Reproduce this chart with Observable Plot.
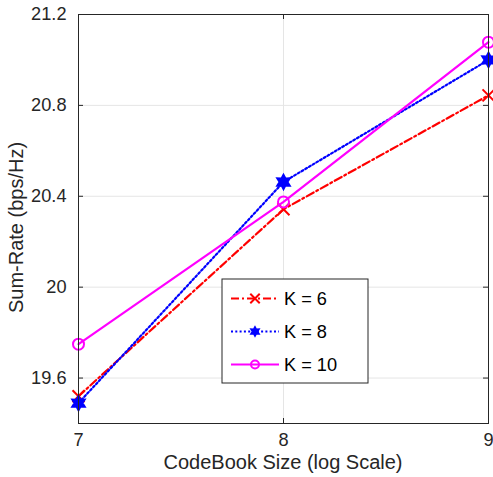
<!DOCTYPE html>
<html>
<head>
<meta charset="utf-8">
<script src="https://cdn.jsdelivr.net/npm/d3@7"></script>
<script src="https://cdn.jsdelivr.net/npm/@observablehq/plot@0.6"></script>
<style>
  html, body { margin: 0; padding: 0; background: #fff; }
  #chart { position: relative; width: 493px; height: 477px; }
  #chart svg { position: absolute; left: 0; top: 0; }
</style>
</head>
<body>
<div id="chart"></div>
<script>
const codebookSizes = [7, 8, 9];
const k6 = [19.52, 20.343, 20.844];
const k8 = [19.49, 20.463, 21.0];
const k10 = [19.749, 20.375, 21.078];
const seriesNames = ["K = 6", "K = 8", "K = 10"];
const xTicks = [7, 8, 9];
const yTicks = [19.6, 20, 20.4, 20.8, 21.2];
const yTickLabels = ["19.6", "20", "20.4", "20.8", "21.2"];

const W = 493, H = 477;
const mL = 78, mR = 5, mT = 14, mB = 54;
const pw = W - mL - mR, ph = H - mT - mB;
const font = "'Liberation Sans', Arial, sans-serif";
const axisColor = "#262626";
const fs = 18.2;
const fsLabel = 20;

const hexagram = {
  draw(ctx, size) {
    const r = Math.sqrt(size) * 0.9;
    const ri = r * 0.55;
    for (let i = 0; i < 12; i++) {
      const a = Math.PI / 2 + i * Math.PI / 6;
      const rr = i % 2 === 0 ? r : ri;
      const px = rr * Math.cos(a), py = -rr * Math.sin(a);
      if (i === 0) ctx.moveTo(px, py); else ctx.lineTo(px, py);
    }
    ctx.closePath();
  }
};

const styles = [
  {vals: k6, color: "#ff0000", dash: "8,3,2,3", symbol: "times", fill: "none", r: 5.5},
  {vals: k8, color: "#0000ff", dash: "2,2.3", symbol: hexagram, fill: "#0000ff", r: 4.5},
  {vals: k10, color: "#ff00ff", dash: null, symbol: "circle", fill: "none", r: 5.5}
];

const marks = [];
marks.push(Plot.ruleX(xTicks, {x: d => d, stroke: "#e5e5e5", strokeWidth: 1}));
marks.push(Plot.ruleY(yTicks, {y: d => d, stroke: "#e5e5e5", strokeWidth: 1}));
styles.forEach((s, i) => {
  const data = codebookSizes.map((x, j) => ({x, y: s.vals[j], name: seriesNames[i]}));
  marks.push(Plot.line(data, {x: "x", y: "y", stroke: s.color, strokeWidth: 2.2, strokeDasharray: s.dash}));
  marks.push(Plot.dot(data, {x: "x", y: "y", stroke: s.color, fill: s.fill, symbol: s.symbol, r: s.r, strokeWidth: 2}));
});
marks.push(Plot.frame({stroke: axisColor, strokeWidth: 1}));
marks.push(Plot.ruleY(yTicks, {y: d => d, stroke: axisColor, insetRight: pw - 5}));
marks.push(Plot.ruleY(yTicks, {y: d => d, stroke: axisColor, insetLeft: pw - 5}));
marks.push(Plot.ruleX(xTicks, {x: d => d, stroke: axisColor, insetTop: ph - 5}));
marks.push(Plot.ruleX(xTicks, {x: d => d, stroke: axisColor, insetBottom: ph - 5}));
marks.push(Plot.axisX(xTicks, {tickSize: 0, tickPadding: 10, fontSize: fs, fill: axisColor, fontFamily: font, label: null, tickFormat: d => String(d)}));
marks.push(Plot.axisY(yTicks, {tickSize: 0, tickPadding: 12, fontSize: fs, fill: axisColor, fontFamily: font, label: null, tickFormat: (d, i) => yTickLabels[i]}));

const plot = Plot.plot({
  width: W, height: H,
  marginLeft: mL, marginRight: mR, marginTop: mT, marginBottom: mB,
  x: {domain: [7, 9]},
  y: {domain: [19.4, 21.2]},
  style: {fontFamily: font, background: "#fff", overflow: "visible"},
  marks
});
document.getElementById("chart").appendChild(plot);

const svg = d3.select("#chart").append("svg")
  .attr("width", W).attr("height", H)
  .style("pointer-events", "none");
svg.append("text")
  .attr("x", mL + pw / 2).attr("y", 469)
  .attr("text-anchor", "middle")
  .attr("font-family", font).attr("font-size", fsLabel).attr("fill", axisColor)
  .text("CodeBook Size (log Scale)");
svg.append("text")
  .attr("transform", `translate(23,227.5) rotate(-90)`)
  .attr("text-anchor", "middle")
  .attr("font-family", font).attr("font-size", fsLabel).attr("fill", axisColor)
  .text("Sum-Rate (bps/Hz)");

const lg = svg.append("g");
lg.append("rect").attr("x", 222).attr("y", 279).attr("width", 146).attr("height", 104)
  .attr("fill", "#fff").attr("stroke", axisColor).attr("stroke-width", 1);
const legY = [298.5, 331.5, 364.5];
styles.forEach((s, i) => {
  const y = legY[i];
  lg.append("line").attr("x1", 231).attr("x2", 279).attr("y1", y).attr("y2", y)
    .attr("stroke", s.color).attr("stroke-width", 2.2)
    .attr("stroke-dasharray", s.dash);
  const cx = 255;
  const sym = s.symbol === "times" ? d3.symbolTimes : s.symbol === "circle" ? d3.symbolCircle : s.symbol;
  const size = s.symbol === "circle" ? Math.PI * 16 : s.symbol === "times" ? 60 : 22;
  lg.append("path").attr("d", d3.symbol(sym, size)())
    .attr("transform", `translate(${cx},${y})`)
    .attr("stroke", s.color).attr("stroke-width", 2).attr("fill", s.fill);
  lg.append("text").attr("x", 284).attr("y", y).attr("dy", "0.35em")
    .attr("font-family", font).attr("font-size", fs).attr("fill", "#000")
    .text(seriesNames[i]);
});
</script>
</body>
</html>
